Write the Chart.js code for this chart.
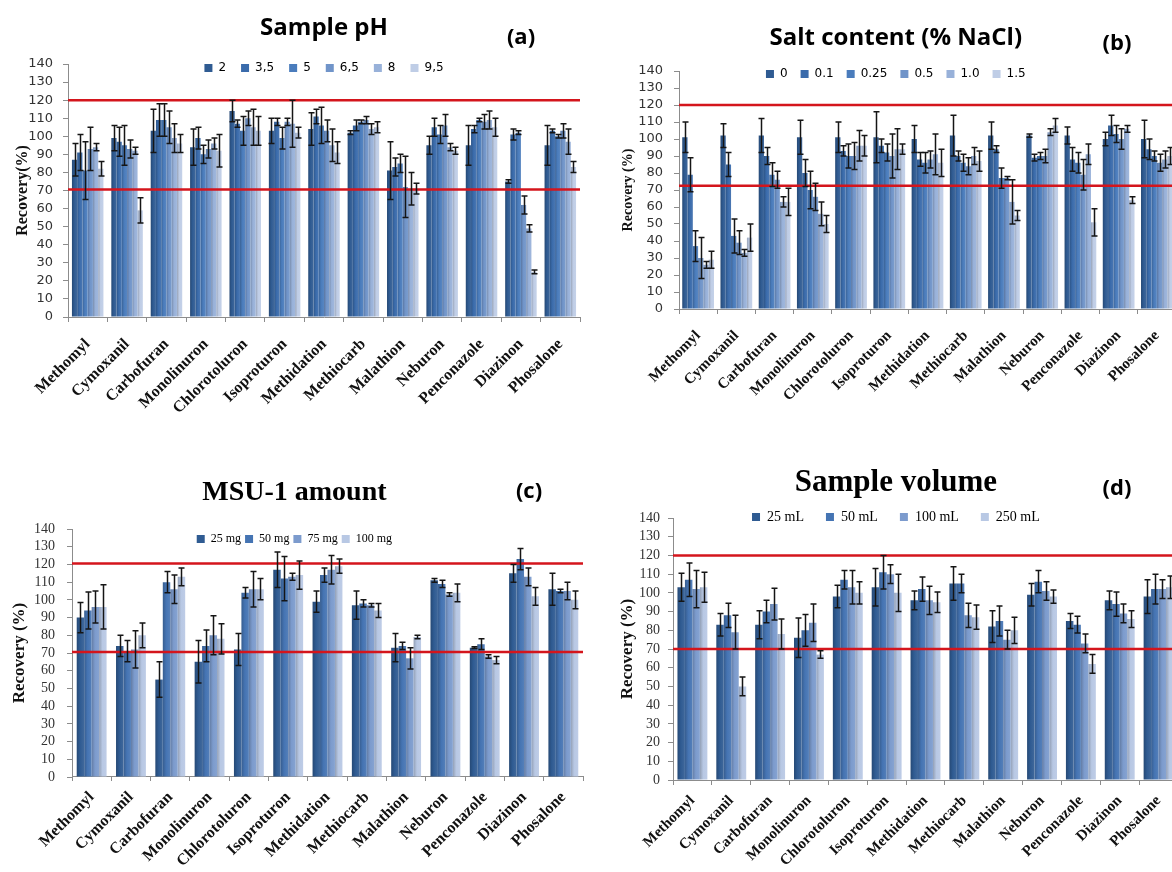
<!DOCTYPE html>
<html>
<head>
<meta charset="utf-8">
<script src="https://cdn.jsdelivr.net/npm/chart.js@4.4.0/dist/chart.umd.min.js"></script>
<style>
  html, body { margin: 0; padding: 0; background: #fff; overflow: hidden; width: 1172px; height: 872px; }
  canvas { position: absolute; }
</style>
</head>
<body>
<canvas id="pa" width="600" height="427" style="left:0px;top:0px"></canvas>
<canvas id="pb" width="600" height="420" style="left:600px;top:0px"></canvas>
<canvas id="pc" width="600" height="432" style="left:0px;top:440px"></canvas>
<canvas id="pd" width="600" height="432" style="left:600px;top:440px"></canvas>
<script>
'use strict';

// ---- data ----
const compounds = ['Methomyl', 'Cymoxanil', 'Carbofuran', 'Monolinuron', 'Chlorotoluron', 'Isoproturon',
  'Methidation', 'Methiocarb', 'Malathion', 'Neburon', 'Penconazole', 'Diazinon', 'Phosalone'];
const yMin = 0, yMax = 140, yStep = 10;

// (a) sample pH
const phLevels = ['2', '3,5', '5', '6,5', '8', '9,5'];
const phMeans = [
  [87, 99, 103, 94, 114, 103, 104, 102, 81, 95, 95, 75, 95],
  [91, 97, 109, 99, 107, 108, 111, 106, 83, 105, 104, 101, 103],
  [81, 95, 109, 90, 103, 99, 106, 108, 85, 101, 109, 102, 100],
  [93, 93, 105, 93, 110, 108, 103, 109, 72, 106, 108, 62, 103],
  [94, 92, 99, 96, 105, 107, 95, 104, 71, 94, 109, 49, 97],
  [82, 59, 96, 92, 103, 102, 91, 105, 71, 92, 105, 25, 83]
];
const phErrors = [
  [9, 7, 12, 10, 6, 7, 9, 1, 16, 5, 11, 1, 11],
  [10, 8, 9, 6, 2, 2, 4, 3, 5, 5, 2, 3, 1],
  [16, 11, 9, 5, 8, 6, 10, 1, 5, 5, 1, 1, 1],
  [12, 5, 9, 5, 4, 2, 6, 2, 17, 6, 4, 5, 4],
  [2, 2, 8, 3, 10, 13, 9, 3, 9, 2, 5, 2, 7],
  [4, 7, 5, 9, 8, 3, 6, 3, 3, 2, 5, 1, 3]
];
const phLimits = [70.5, 120];

// (b) salt content
const saltLevels = ['0', '0.1', '0.25', '0.5', '1.0', '1.5'];
const saltMeans = [
  [101, 102, 102, 101, 101, 101, 100, 102, 102, 102, 102, 100, 100],
  [79, 85, 90, 80, 93, 96, 88, 90, 94, 89, 88, 108, 94],
  [37, 43, 79, 70, 90, 92, 86, 86, 77, 90, 86, 103, 90],
  [30, 39, 76, 66, 90, 90, 88, 84, 77, 90, 79, 100, 86],
  [26, 33, 63, 56, 96, 94, 91, 90, 63, 104, 91, 106, 88],
  [29, 42, 63, 50, 96, 94, 86, 87, 55, 108, 51, 64, 90]
];
const saltErrors = [
  [9, 7, 10, 10, 9, 15, 8, 12, 8, 1, 5, 4, 11],
  [10, 7, 5, 8, 3, 4, 4, 3, 2, 2, 7, 6, 6],
  [9, 10, 7, 11, 7, 5, 6, 5, 6, 2, 6, 5, 3],
  [12, 7, 5, 8, 8, 13, 5, 5, 1, 4, 9, 6, 5],
  [2, 2, 3, 7, 9, 12, 12, 5, 13, 2, 6, 2, 5],
  [5, 8, 8, 5, 6, 3, 8, 6, 3, 4, 8, 2, 5]
];
const saltLimits = [72.5, 120];

// (c) MSU-1 amount
const msuLevels = ['25 mg', '50 mg', '75 mg', '100 mg'];
const msuMeans = [
  [90, 74, 55, 65, 72, 117, 99, 97, 73, 111, 73, 115, 106],
  [94, 71, 110, 74, 104, 112, 114, 98, 74, 109, 75, 123, 105],
  [96, 72, 106, 80, 106, 113, 117, 97, 67, 103, 68, 113, 105],
  [96, 80, 113, 78, 106, 114, 119, 94, 79, 104, 66, 102, 100]
];
const msuErrors = [
  [8.5, 6, 10, 12, 9, 10, 6, 8, 8, 1, 0.5, 5, 9],
  [10.5, 6, 6, 9, 3, 12.5, 4, 2, 2, 2, 3, 6, 1],
  [9, 10.5, 8, 11, 10, 2, 8, 1, 6, 1, 1, 5, 5],
  [12.5, 7, 5, 8.5, 6, 8, 4, 4, 1, 5, 2, 5, 5]
];
const msuLimits = [70.5, 120.5];

// (d) sample volume
const volLevels = ['25 mL', '50 mL', '100 mL', '250 mL'];
const volMeans = [
  [103, 83, 83, 76, 98, 103, 96, 105, 82, 99, 85, 96, 98],
  [107, 88, 90, 80, 107, 111, 102, 105, 85, 106, 83, 94, 102],
  [102, 79, 94, 84, 103, 110, 96, 88, 75, 101, 73, 89, 102],
  [103, 50, 78, 67, 100, 100, 95, 87, 80, 98, 62, 86, 103]
];
const volErrors = [
  [7.5, 6, 7.5, 10.5, 6, 10, 5, 9, 8.5, 6, 4, 5, 9],
  [9, 6.5, 6, 8.5, 5, 9, 6.5, 5, 8, 6, 4.5, 6.5, 8],
  [10, 9, 8.5, 10, 9, 5, 7.5, 6.5, 5, 5, 5, 5, 5],
  [8, 5, 8, 2, 6, 10, 5.5, 6.5, 7, 3.5, 5, 4.5, 6]
];
const volLimits = [70, 120];

// ---- styling ----
const blues6 = ['#2f5b92', '#3a6bab', '#4a7cbc', '#7094c9', '#98b1d9', '#bfcde6'];
const blues4 = ['#2f5b92', '#4574b3', '#7c9bcd', '#b8c8e4'];
const axisGrey = '#8c8c8c';
const SANS = "'DejaVu Sans', sans-serif";
const OPEN = "'Open Sans', sans-serif";
const SERIF = "'Liberation Serif', 'DejaVu Serif', serif";

// mix a hex colour toward black (f < 0) or white (f > 0)
function shade(hex, f) {
  const n = parseInt(hex.slice(1), 16);
  const t = f < 0 ? 0 : 255, k = Math.abs(f);
  const c = [n >> 16, (n >> 8) & 255, n & 255].map(v => Math.round(v + (t - v) * k));
  return 'rgb(' + c.join(',') + ')';
}

// office-style horizontal shading on each bar
function barFill(color) {
  return ctx => {
    const el = ctx.element;
    if (!el || !isFinite(el.x) || !isFinite(el.width)) return color;
    const g = ctx.chart.ctx.createLinearGradient(el.x - el.width / 2, 0, el.x + el.width / 2, 0);
    g.addColorStop(0, shade(color, -0.2));
    g.addColorStop(0.45, color);
    g.addColorStop(1, shade(color, 0.08));
    return g;
  };
}

// ---- plugins ----
const limitPlugin = {
  id: 'limitLines',
  afterDatasetsDraw(chart, args, opts) {
    const { ctx, chartArea, scales } = chart;
    ctx.save();
    ctx.strokeStyle = opts.color;
    ctx.lineWidth = opts.width;
    opts.values.forEach(v => {
      const py = scales.y.getPixelForValue(v);
      ctx.beginPath();
      ctx.moveTo(chartArea.left, py);
      ctx.lineTo(chartArea.right, py);
      ctx.stroke();
    });
    ctx.restore();
  }
};

const errorBarPlugin = {
  id: 'errorBars',
  afterDatasetsDraw(chart, args, opts) {
    const ctx = chart.ctx;
    const y = chart.scales.y;
    ctx.save();
    ctx.strokeStyle = opts.color;
    ctx.lineWidth = opts.width;
    chart.data.datasets.forEach((ds, i) => {
      chart.getDatasetMeta(i).data.forEach((bar, j) => {
        const v = ds.data[j], e = opts.errors[i][j];
        const top = y.getPixelForValue(v + e);
        const bot = y.getPixelForValue(v - e);
        const x = Math.round(bar.x) + 0.5;
        ctx.beginPath();
        ctx.moveTo(x, top); ctx.lineTo(x, bot);
        ctx.moveTo(x - opts.cap, top); ctx.lineTo(x + opts.cap, top);
        ctx.moveTo(x - opts.cap, bot); ctx.lineTo(x + opts.cap, bot);
        ctx.stroke();
      });
    });
    ctx.restore();
  }
};

const letterPlugin = {
  id: 'panelLetter',
  afterDraw(chart, args, opts) {
    const ctx = chart.ctx;
    ctx.save();
    ctx.font = opts.font;
    ctx.fillStyle = '#000';
    ctx.textAlign = 'center';
    ctx.textBaseline = 'middle';
    ctx.fillText(opts.text, opts.x, opts.y);
    ctx.restore();
  }
};

// legend takes little layout room (it sits over the top of the plot),
// but its clip box has to be tall enough for the items
const legendOverlap = {
  id: 'legendOverlap',
  afterLayout(chart) {
    const lg = chart.legend;
    lg.height = 40;
    lg.bottom = lg.top + 40;
  }
};

// ---- one panel ----
function makePanel(p) {
  const canvas = document.getElementById(p.id);
  const W = canvas.width, H = canvas.height;

  // vertical stacking: title, squeezed legend, plot
  const titleTop = p.titleY - p.top - p.titleFont.size / 2;
  const legendTop = p.legendY - p.top - p.legendPad - p.legendFont.size / 2;
  const titleBottom = legendTop - (p.titleY - p.top + p.titleFont.size / 2);
  const legendH = p.chartTop - p.top - legendTop;

  // horizontal: axis title, tick labels, plot
  const axisLH = p.axisFont.size * 1.2;
  const padL = p.axisTitleX - p.left - 4 - axisLH / 2;
  const yW = p.chartLeft - p.left - padL;
  const padR = p.left + W - p.chartRight;
  const tickPad = p.chartLeft - 5 - p.tickRight;
  const xH = H - (p.chartBottom - p.top);

  const chart = new Chart(canvas, {
    type: 'bar',
    data: {
      labels: compounds,
      datasets: p.levels.map((lv, i) => ({
        label: lv,
        data: p.means[i],
        backgroundColor: barFill(p.colors[i]),
        legendColor: p.colors[i],
        borderWidth: 0,
        categoryPercentage: p.catPct,
        barPercentage: 1
      }))
    },
    options: {
      responsive: false,
      animation: false,
      events: [],
      layout: { padding: { left: padL, right: padR, top: 0, bottom: 0 } },
      scales: {
        x: {
          offset: true,
          grid: { drawOnChartArea: false, color: axisGrey, tickLength: 5, offset: true },
          border: { color: axisGrey },
          ticks: { autoSkip: false, minRotation: 45, maxRotation: 45, padding: p.xPad, color: '#111', font: p.xFont },
          afterFit: s => { s.height = xH; }
        },
        y: {
          min: yMin, max: yMax,
          ticks: { stepSize: yStep, autoSkip: false, padding: tickPad, color: '#333', font: p.tickFont },
          grid: { drawOnChartArea: false, color: axisGrey, tickLength: 5 },
          border: { color: axisGrey },
          title: { display: true, text: p.axisTitle, color: '#111', font: p.axisFont, padding: { top: 4, bottom: 4 } },
          afterFit: s => { s.width = yW; }
        }
      },
      plugins: {
        title: {
          display: true, text: p.title, color: '#000', fullSize: p.fullSize,
          font: Object.assign({ lineHeight: 1 }, p.titleFont),
          padding: { top: titleTop, bottom: titleBottom }
        },
        legend: {
          position: 'top', fullSize: p.fullSize, maxHeight: legendH,
          labels: {
            boxWidth: 8, boxHeight: 8, padding: p.legendPad, color: '#333', font: p.legendFont,
            generateLabels: ch => ch.data.datasets.map((ds, i) => ({
              text: ds.label, fillStyle: ds.legendColor, strokeStyle: ds.legendColor,
              lineWidth: 0, hidden: false, datasetIndex: i
            }))
          }
        },
        tooltip: { enabled: false },
        limitLines: { values: p.limits, color: '#d4151c', width: 2.5 },
        errorBars: { errors: p.errors, color: '#151515', width: 1.5, cap: 3 },
        panelLetter: { text: p.letter, x: p.letterX - p.left, y: p.letterY - p.top, font: 'bold 22px ' + OPEN }
      }
    },
    plugins: [limitPlugin, errorBarPlugin, letterPlugin, legendOverlap]
  });
  // second pass so the bar shading knows where each bar sits
  chart.update();
  return chart;
}

makePanel({
  id: 'pa', left: 0, top: 0,
  chartLeft: 68, chartRight: 580, chartTop: 64, chartBottom: 317,
  title: 'Sample pH', titleY: 28, titleFont: { family: OPEN, size: 24, weight: 'bold' },
  legendY: 68, legendPad: 15, legendFont: { family: SANS, size: 12 },
  axisTitle: 'Recovery(%)', axisTitleX: 23, axisFont: { family: SERIF, size: 16, weight: 'bold' },
  tickRight: 53, tickFont: { family: SANS, size: 13 },
  xFont: { family: SERIF, size: 16, weight: 'bold' }, xPad: 13,
  letter: '(a)', letterX: 521, letterY: 38, fullSize: false, catPct: 0.8,
  levels: phLevels, means: phMeans, errors: phErrors, limits: phLimits, colors: blues6
});

makePanel({
  id: 'pb', left: 600, top: 0,
  chartLeft: 679, chartRight: 1176, chartTop: 71, chartBottom: 309,
  title: 'Salt content (% NaCl)', titleY: 38, titleFont: { family: OPEN, size: 24, weight: 'bold' },
  legendY: 74, legendPad: 13, legendFont: { family: SANS, size: 12 },
  axisTitle: 'Recovery (%)', axisTitleX: 628, axisFont: { family: SERIF, size: 14, weight: 'bold' },
  tickRight: 663, tickFont: { family: SANS, size: 13 },
  xFont: { family: SERIF, size: 15, weight: 'bold' }, xPad: 13,
  letter: '(b)', letterX: 1117, letterY: 44, fullSize: true, catPct: 0.83,
  levels: saltLevels, means: saltMeans, errors: saltErrors, limits: saltLimits, colors: blues6
});

makePanel({
  id: 'pc', left: 0, top: 440,
  chartLeft: 72, chartRight: 583, chartTop: 528, chartBottom: 777,
  title: 'MSU-1 amount', titleY: 493, titleFont: { family: SERIF, size: 28, weight: 'bold' },
  legendY: 539, legendPad: 4, legendFont: { family: SERIF, size: 12 },
  axisTitle: 'Recovery (%)', axisTitleX: 20, axisFont: { family: SERIF, size: 17, weight: 'bold' },
  tickRight: 55, tickFont: { family: SERIF, size: 14 },
  xFont: { family: SERIF, size: 16, weight: 'bold' }, xPad: 7,
  letter: '(c)', letterX: 529, letterY: 492, fullSize: true, catPct: 0.76,
  levels: msuLevels, means: msuMeans, errors: msuErrors, limits: msuLimits, colors: blues4
});

makePanel({
  id: 'pd', left: 600, top: 440,
  chartLeft: 673, chartRight: 1178, chartTop: 518, chartBottom: 780,
  title: 'Sample volume', titleY: 483, titleFont: { family: SERIF, size: 31, weight: 'bold' },
  legendY: 517, legendPad: 22, legendFont: { family: SERIF, size: 14 },
  axisTitle: 'Recovery (%)', axisTitleX: 628, axisFont: { family: SERIF, size: 17, weight: 'bold' },
  tickRight: 660, tickFont: { family: SERIF, size: 14 },
  xFont: { family: SERIF, size: 15, weight: 'bold' }, xPad: 7,
  letter: '(d)', letterX: 1117, letterY: 489, fullSize: true, catPct: 0.77,
  levels: volLevels, means: volMeans, errors: volErrors, limits: volLimits, colors: blues4
});
</script>
</body>
</html>
